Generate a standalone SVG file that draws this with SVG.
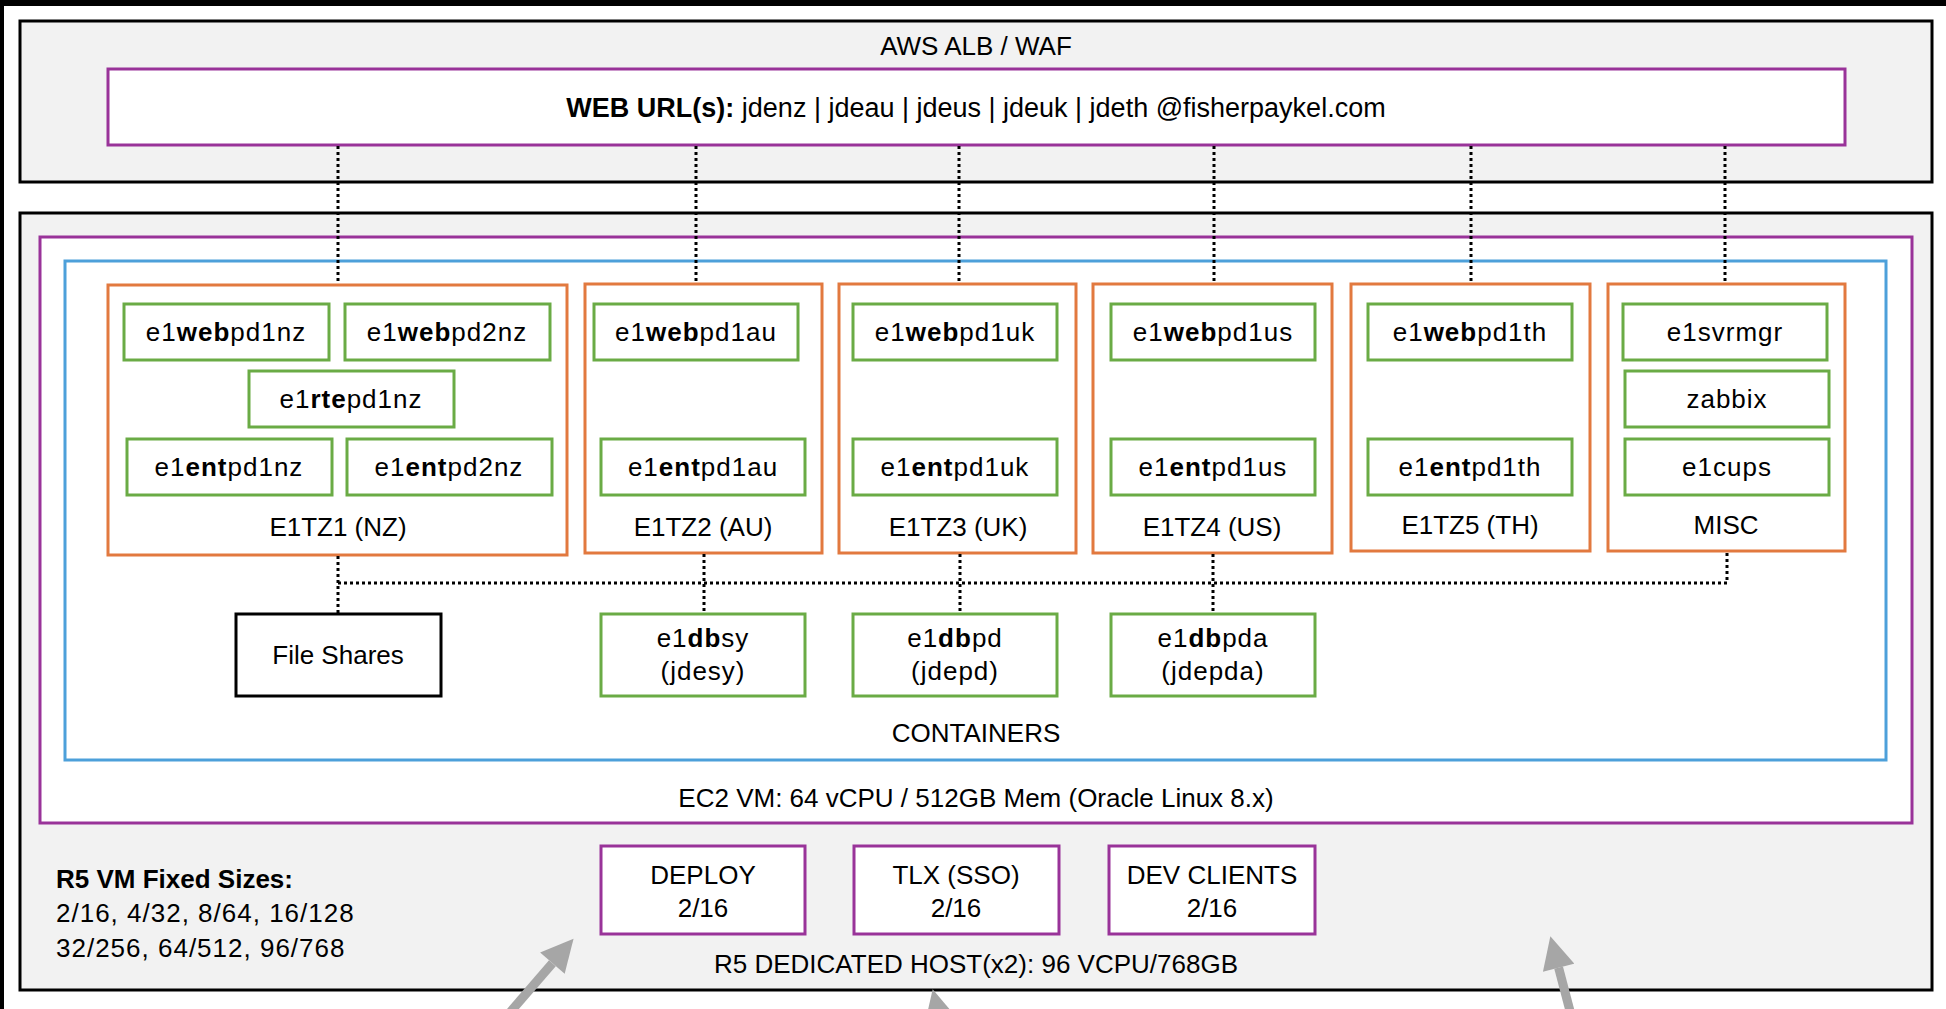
<svg xmlns="http://www.w3.org/2000/svg" width="1946" height="1009" viewBox="0 0 1946 1009">
<defs>
<style>
text{font-family:"Liberation Sans",Arial,sans-serif;font-size:26px;fill:#000;text-anchor:middle}
.g text{letter-spacing:1px}
.b{font-weight:bold}
.outer{fill:#f2f2f2;stroke:#000;stroke-width:3}
.purple{fill:#fff;stroke:#993399;stroke-width:3}
.blue{fill:#fff;stroke:#4da0da;stroke-width:3}
.orange{fill:#fff;stroke:#e2793f;stroke-width:3}
.green{fill:#fff;stroke:#6aab45;stroke-width:3}
.black{fill:#fff;stroke:#000;stroke-width:3}
.dot{fill:none;stroke:#000;stroke-width:3;stroke-dasharray:3 3}
.arrow{fill:none;stroke:#a6a6a6;stroke-width:9}
</style>
<marker id="ah" viewBox="0 0 10 10" refX="0" refY="5" markerWidth="4" markerHeight="3.6" markerUnits="strokeWidth" orient="auto">
<path d="M0,0 L10,5 L0,10 z" fill="#a6a6a6"/>
</marker>
</defs>
<rect x="0" y="0" width="1946" height="1009" fill="#fff"/>
<rect x="0" y="0" width="1946" height="6" fill="#000"/>
<rect x="0" y="0" width="4" height="1009" fill="#000"/>

<g id="aws">
<rect class="outer" x="20" y="21" width="1912" height="161"/>
<text x="976" y="55">AWS ALB / WAF</text>
</g>
<g id="weburl">
<rect class="purple" x="108" y="69" width="1737" height="76"/>
<text x="976" y="117" style="font-size:27px"><tspan class="b">WEB URL(s):</tspan> jdenz | jdeau | jdeus | jdeuk | jdeth @fisherpaykel.com</text>
</g>

<g id="host">
<rect class="outer" x="20" y="213" width="1912" height="777"/>
<text x="976" y="973">R5 DEDICATED HOST(x2): 96 VCPU/768GB</text>
<text x="56" y="888" style="text-anchor:start" class="b">R5 VM Fixed Sizes:</text>
<text x="56" y="922" style="text-anchor:start;letter-spacing:1px">2/16, 4/32, 8/64, 16/128</text>
<text x="56" y="957" style="text-anchor:start;letter-spacing:1px">32/256, 64/512, 96/768</text>
</g>
<g id="ec2">
<rect class="purple" x="40" y="237" width="1872" height="586"/>
<text x="976" y="807">EC2 VM: 64 vCPU / 512GB Mem (Oracle Linux 8.x)</text>
</g>
<g id="containers">
<rect class="blue" x="65" y="261" width="1821" height="499"/>
<text x="976" y="742">CONTAINERS</text>
</g>

<g id="tz1">
<rect class="orange" x="108" y="285" width="459" height="270"/>
<text x="338" y="536">E1TZ1 (NZ)</text>
</g>
<g id="tz2">
<rect class="orange" x="585" y="284" width="237" height="269"/>
<text x="703" y="536">E1TZ2 (AU)</text>
</g>
<g id="tz3">
<rect class="orange" x="839" y="284" width="237" height="269"/>
<text x="958" y="536">E1TZ3 (UK)</text>
</g>
<g id="tz4">
<rect class="orange" x="1093" y="284" width="239" height="269"/>
<text x="1212" y="536">E1TZ4 (US)</text>
</g>
<g id="tz5">
<rect class="orange" x="1351" y="284" width="239" height="267"/>
<text x="1470" y="534">E1TZ5 (TH)</text>
</g>
<g id="misc">
<rect class="orange" x="1608" y="284" width="237" height="267"/>
<text x="1726" y="534">MISC</text>
</g>

<g class="g">
<g id="e1webpd1nz"><rect class="green" x="124" y="304" width="205" height="56"/><text x="226" y="341">e1<tspan class="b">web</tspan>pd1nz</text></g>
<g id="e1webpd2nz"><rect class="green" x="345" y="304" width="205" height="56"/><text x="447" y="341">e1<tspan class="b">web</tspan>pd2nz</text></g>
<g id="e1rtepd1nz"><rect class="green" x="249" y="371" width="205" height="56"/><text x="351" y="408">e1<tspan class="b">rte</tspan>pd1nz</text></g>
<g id="e1entpd1nz"><rect class="green" x="127" y="439" width="205" height="56"/><text x="229" y="476">e1<tspan class="b">ent</tspan>pd1nz</text></g>
<g id="e1entpd2nz"><rect class="green" x="347" y="439" width="205" height="56"/><text x="449" y="476">e1<tspan class="b">ent</tspan>pd2nz</text></g>

<g id="e1webpd1au"><rect class="green" x="594" y="304" width="204" height="56"/><text x="696" y="341">e1<tspan class="b">web</tspan>pd1au</text></g>
<g id="e1entpd1au"><rect class="green" x="601" y="439" width="204" height="56"/><text x="703" y="476">e1<tspan class="b">ent</tspan>pd1au</text></g>

<g id="e1webpd1uk"><rect class="green" x="853" y="304" width="204" height="56"/><text x="955" y="341">e1<tspan class="b">web</tspan>pd1uk</text></g>
<g id="e1entpd1uk"><rect class="green" x="853" y="439" width="204" height="56"/><text x="955" y="476">e1<tspan class="b">ent</tspan>pd1uk</text></g>

<g id="e1webpd1us"><rect class="green" x="1111" y="304" width="204" height="56"/><text x="1213" y="341">e1<tspan class="b">web</tspan>pd1us</text></g>
<g id="e1entpd1us"><rect class="green" x="1111" y="439" width="204" height="56"/><text x="1213" y="476">e1<tspan class="b">ent</tspan>pd1us</text></g>

<g id="e1webpd1th"><rect class="green" x="1368" y="304" width="204" height="56"/><text x="1470" y="341">e1<tspan class="b">web</tspan>pd1th</text></g>
<g id="e1entpd1th"><rect class="green" x="1368" y="439" width="204" height="56"/><text x="1470" y="476">e1<tspan class="b">ent</tspan>pd1th</text></g>

<g id="e1svrmgr"><rect class="green" x="1623" y="304" width="204" height="56"/><text x="1725" y="341">e1svrmgr</text></g>
<g id="zabbix"><rect class="green" x="1625" y="371" width="204" height="56"/><text x="1727" y="408">zabbix</text></g>
<g id="e1cups"><rect class="green" x="1625" y="439" width="204" height="56"/><text x="1727" y="476">e1cups</text></g>

<g id="e1dbsy"><rect class="green" x="601" y="614" width="204" height="82"/><text x="703" y="647">e1<tspan class="b">db</tspan>sy</text><text x="703" y="680">(jdesy)</text></g>
<g id="e1dbpd"><rect class="green" x="853" y="614" width="204" height="82"/><text x="955" y="647">e1<tspan class="b">db</tspan>pd</text><text x="955" y="680">(jdepd)</text></g>
<g id="e1dbpda"><rect class="green" x="1111" y="614" width="204" height="82"/><text x="1213" y="647">e1<tspan class="b">db</tspan>pda</text><text x="1213" y="680">(jdepda)</text></g>
</g>

<g id="fileshares"><rect class="black" x="236" y="614" width="205" height="82"/><text x="338" y="664">File Shares</text></g>

<g id="deploy"><rect class="purple" x="601" y="846" width="204" height="88"/><text x="703" y="884">DEPLOY</text><text x="703" y="917">2/16</text></g>
<g id="tlx"><rect class="purple" x="854" y="846" width="205" height="88"/><text x="956" y="884">TLX (SSO)</text><text x="956" y="917">2/16</text></g>
<g id="devclients"><rect class="purple" x="1109" y="846" width="206" height="88"/><text x="1212" y="884">DEV CLIENTS</text><text x="1212" y="917">2/16</text></g>

<g id="connectors">
<path class="dot" d="M338,146 V284 M696,146 V283 M959,146 V283 M1214,146 V283 M1471,146 V283 M1725,146 V283"/>
<path class="dot" d="M338,556 V613 M338,583 H1727 V552 M704,554 V613 M960,554 V613 M1213,554 V613"/>
<path class="arrow" d="M500,1024 L552.4,963.2" marker-end="url(#ah)"/>
<path class="arrow" d="M950,1060 L940.4,1020.8" marker-end="url(#ah)"/>
<path class="arrow" d="M1575,1030 L1558.6,967.7" marker-end="url(#ah)"/>
</g>
</svg>
